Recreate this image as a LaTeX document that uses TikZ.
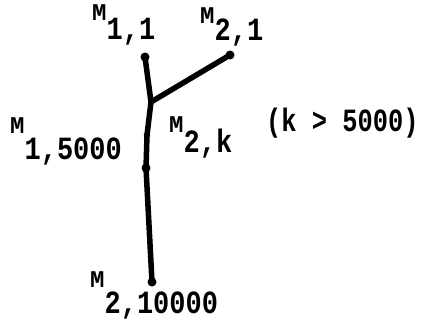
\documentclass[tikz,border=0pt]{standalone}
\usepackage{fontspec}
\setmonofont{Liberation Mono}
\newcommand{\bigtt}{\ttfamily\bfseries\fontsize{27}{27}\selectfont}
\newcommand{\smalltt}{\ttfamily\bfseries\fontsize{24}{24}\selectfont}
\newcommand{\mlabel}[2]{{\smalltt M}\raisebox{-#2pt}{\bigtt\scalebox{1}[1.2]{#1}}}
\begin{document}
\begin{tikzpicture}[x=1pt,y=-1pt,
  edge/.style={line width=5.5pt,line cap=round,line join=round},
  pt/.style={circle,fill=black,inner sep=0pt,minimum size=9pt},
  tick/.style={circle,fill=black,inner sep=0pt,minimum size=6.5pt},
  lab/.style={anchor=base west,inner sep=0pt}]
\useasboundingbox (0,0) rectangle (423,321);
\node[pt] (m11) at (145,57) {};
\node[pt] (m21) at (230,55) {};
\coordinate (j) at (151,102);
\node[tick] (m15000) at (147,135) {};
\node[pt] (m2k) at (146,168) {};
\node[pt] (m210000) at (152,282) {};
\draw[edge] (m11.center) -- (j) -- (m15000.center) -- (m2k.center) -- (m210000.center);
\draw[edge] (j) -- (m21.center);
\node[lab] (l11) at (92,21) {\mlabel{1,1}{19}};
\node[lab] (l21) at (200,24) {\mlabel{2,1}{17}};
\node[lab] (l15000) at (10,133) {\mlabel{1,5000}{26}};
\node[lab] (l2k) at (169,132) {\mlabel{2,k}{20}};
\node[lab] (l210000) at (90,287) {\mlabel{2,10000}{26}};
\node[lab] (cond) at (266,131) {\bigtt\scalebox{0.94}[1.2]{(k > 5000)}};
\end{tikzpicture}
\end{document}
